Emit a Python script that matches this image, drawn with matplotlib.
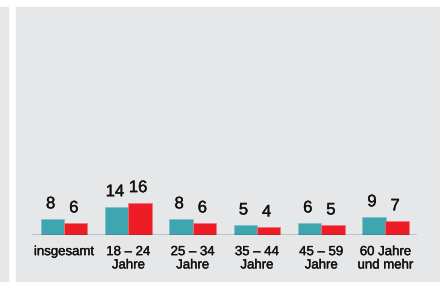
import matplotlib.pyplot as plt
import matplotlib.patheffects as pe
from matplotlib.patches import Rectangle

categories = ['insgesamt', '18 – 24\nJahre', '25 – 34\nJahre', '35 – 44\nJahre',
              '45 – 59\nJahre', '60 Jahre\nund mehr']
teal_values = [8, 14, 8, 5, 6, 9]
red_values = [6, 16, 6, 4, 5, 7]

TEAL = '#3fa6b1'
RED = '#ee1c25'
GRAY = '#e6e7e9'
INK = '#111111'

plt.rcParams['font.family'] = ['Liberation Sans', 'DejaVu Sans']
heavy = [pe.withStroke(linewidth=0.25, foreground=INK)]

W, H = 440, 282
fig = plt.figure(figsize=(W / 100, H / 100), dpi=100)
fig.patch.set_facecolor('white')

# graue Flächen im Hintergrund
fig.patches.append(Rectangle((0, 0), 8 / W, 1 - 7 / H, transform=fig.transFigure,
                             color=GRAY, zorder=-5))
fig.patches.append(Rectangle((16 / W, 0), 1 - 16 / W, 1 - 7 / H, transform=fig.transFigure,
                             color=GRAY, zorder=-5))

left, right = 32 / W, 417 / W
bottom, top = (H - 235) / H, (H - 20) / H
ax = fig.add_axes([left, bottom, right - left, top - bottom])
ax.set_zorder(2)
ax.patch.set_alpha(0)

x = range(len(categories))
w = 0.365
off = 0.18
ax.bar([i - off for i in x], teal_values, width=w, color=TEAL,
       edgecolor='#7cc3ca', linewidth=0.5, zorder=2)
ax.bar([i + off for i in x], red_values, width=w, color=RED,
       edgecolor='#f4747a', linewidth=0.5, zorder=2)

for i in x:
    ax.annotate(str(teal_values[i]), (i - off - 0.03, teal_values[i]),
                xytext=(0, 7.5), textcoords='offset points',
                ha='center', va='baseline', fontsize=12, color=INK, path_effects=heavy)
    ax.annotate(str(red_values[i]), (i + off - 0.03, red_values[i]),
                xytext=(0, 7.5), textcoords='offset points',
                ha='center', va='baseline', fontsize=12, color=INK, path_effects=heavy)

ax.set_xlim(-0.5, 5.49)
ax.set_ylim(0, 215 / 2.03)
ax.axhline(0, color='#333333', linewidth=1.0, zorder=3)

ax.set_xticks(list(x))
ax.set_xticklabels(categories, fontsize=9.5, color=INK, linespacing=1.15)
for t in ax.get_xticklabels():
    t.set_path_effects(heavy)
ax.tick_params(axis='x', length=0, pad=8)
ax.set_yticks([])
for s in ax.spines.values():
    s.set_visible(False)

fig.savefig('out.png', dpi=100)
